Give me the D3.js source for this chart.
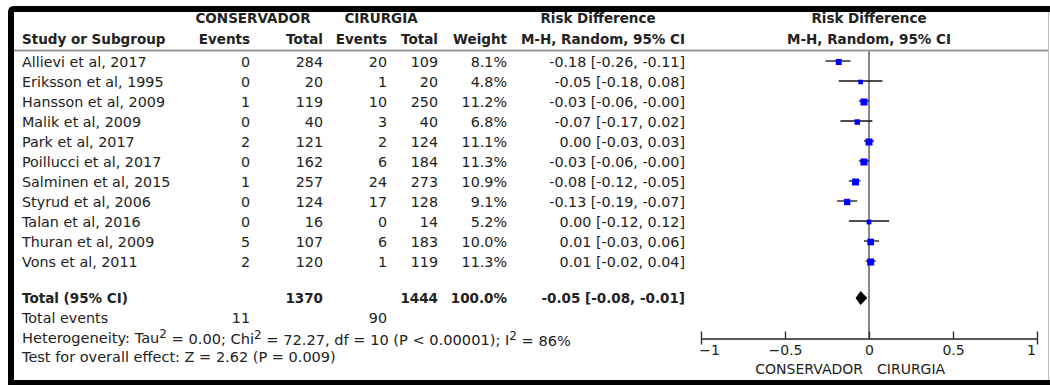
<!DOCTYPE html>
<html>
<head>
<meta charset="utf-8">
<script src="https://cdn.jsdelivr.net/npm/d3@7"></script>
<style>
  body { margin: 0; background: #fff; }
  svg text { font-family: "DejaVu Sans", sans-serif; fill: #222; }
</style>
</head>
<body>
<div id="chart"></div>
<script>
// data
const studies = ["Allievi et al, 2017", "Eriksson et al, 1995", "Hansson et al, 2009", "Malik et al, 2009",
  "Park et al, 2017", "Poillucci et al, 2017", "Salminen et al, 2015", "Styrud et al, 2006",
  "Talan et al, 2016", "Thuran et al, 2009", "Vons et al, 2011"];
const consEvents = [0, 0, 1, 0, 2, 0, 1, 0, 0, 5, 2];
const consTotal = [284, 20, 119, 40, 121, 162, 257, 124, 16, 107, 120];
const cirEvents = [20, 1, 10, 3, 2, 6, 24, 17, 0, 6, 1];
const cirTotal = [109, 20, 250, 40, 124, 184, 273, 128, 14, 183, 119];
const weights = [8.1, 4.8, 11.2, 6.8, 11.1, 11.3, 10.9, 9.1, 5.2, 10.0, 11.3];
const rd = [-0.18, -0.05, -0.03, -0.07, 0.00, -0.03, -0.08, -0.13, 0.00, 0.01, 0.01];
const ciLow = [-0.26, -0.18, -0.06, -0.17, -0.03, -0.06, -0.12, -0.19, -0.12, -0.03, -0.02];
const ciHigh = [-0.11, 0.08, -0.00, 0.02, 0.03, -0.00, -0.05, -0.07, 0.12, 0.06, 0.04];
const ciText = ["-0.18 [-0.26, -0.11]", "-0.05 [-0.18, 0.08]", "-0.03 [-0.06, -0.00]", "-0.07 [-0.17, 0.02]",
  "0.00 [-0.03, 0.03]", "-0.03 [-0.06, -0.00]", "-0.08 [-0.12, -0.05]", "-0.13 [-0.19, -0.07]",
  "0.00 [-0.12, 0.12]", "0.01 [-0.03, 0.06]", "0.01 [-0.02, 0.04]"];
const pooled = { rd: -0.05, lo: -0.08, hi: -0.01, text: "-0.05 [-0.08, -0.01]" };
const totals = { consTotal: 1370, cirTotal: 1444, weight: "100.0%", consEvents: 11, cirEvents: 90 };
const axisTicks = [-1, -0.5, 0, 0.5, 1];

const W = 1050, H = 385;
const svg = d3.select("#chart").append("svg").attr("width", W).attr("height", H);

// frame
svg.append("rect").attr("width", W).attr("height", H).attr("fill", "#fff");
svg.append("path")
  .attr("d", "M8,385 L8,12 Q8,6 14,6 L1050,6 L1050,12 L14,12 L14,380 L1050,380 L1050,385 Z")
  .attr("fill", "#000");
svg.append("line").attr("x1", 1048.5).attr("x2", 1048.5).attr("y1", 12).attr("y2", 380)
  .attr("stroke", "#bbb").attr("stroke-width", 1);

// columns (right edges) and rows
const col = { study: 22, ce: 250, ct: 323, se: 387, st: 438, w: 507, ci: 685 };
const rowY = d3.scaleLinear().domain([0, 1]).range([62, 82]);
const fs = 14.3, bfs = 13.5;

const txt = (x, y, s, anchor, bold) => svg.append("text")
  .attr("x", x).attr("y", y).attr("dy", "0.35em")
  .attr("text-anchor", anchor || "start")
  .attr("font-size", bold ? bfs : fs)
  .attr("font-weight", bold ? "bold" : "normal")
  .text(s);

// header
txt(253, 18, "CONSERVADOR", "middle", true);
txt(381, 18, "CIRURGIA", "middle", true);
txt(598, 18, "Risk Difference", "middle", true);
txt(869, 18, "Risk Difference", "middle", true);
txt(col.study, 39, "Study or Subgroup", "start", true);
txt(col.ce, 39, "Events", "end", true);
txt(col.ct, 39, "Total", "end", true);
txt(col.se, 39, "Events", "end", true);
txt(col.st, 39, "Total", "end", true);
txt(col.w, 39, "Weight", "end", true);
txt(col.ci, 39, "M-H, Random, 95% CI", "end", true);
txt(869, 39, "M-H, Random, 95% CI", "middle", true);

svg.append("line").attr("x1", 14).attr("x2", 1048).attr("y1", 50.5).attr("y2", 50.5)
  .attr("stroke", "#999").attr("stroke-width", 2);

// study rows
studies.forEach((s, i) => {
  const y = rowY(i);
  txt(col.study, y, s);
  txt(col.ce, y, consEvents[i], "end");
  txt(col.ct, y, consTotal[i], "end");
  txt(col.se, y, cirEvents[i], "end");
  txt(col.st, y, cirTotal[i], "end");
  txt(col.w, y, d3.format(".1f")(weights[i]) + "%", "end");
  txt(col.ci, y, ciText[i], "end");
});

// totals
const yTot = 298;
txt(col.study, yTot, "Total (95% CI)", "start", true);
txt(col.ct, yTot, totals.consTotal, "end", true);
txt(col.st, yTot, totals.cirTotal, "end", true);
txt(col.w, yTot, totals.weight, "end", true);
txt(col.ci, yTot, pooled.text, "end", true);
txt(col.study, 318, "Total events");
txt(col.ce, 318, totals.consEvents, "end");
txt(col.se, 318, totals.cirEvents, "end");

const het = txt(col.study, 338, "").attr("font-size", 14.6);
het.append("tspan").text("Heterogeneity: Tau");
het.append("tspan").attr("dy", "-0.4em").attr("font-size", 12).text("2");
het.append("tspan").attr("dy", "0.4em").text(" = 0.00; Chi");
het.append("tspan").attr("dy", "-0.4em").attr("font-size", 12).text("2");
het.append("tspan").attr("dy", "0.4em").text(" = 72.27, df = 10 (P < 0.00001); I");
het.append("tspan").attr("dy", "-0.4em").attr("font-size", 12).text("2");
het.append("tspan").attr("dy", "0.4em").text(" = 86%");
txt(col.study, 357, "Test for overall effect: Z = 2.62 (P = 0.009)").attr("font-size", 14.5);

// forest plot
const x = d3.scaleLinear().domain([-1, 1]).range([701, 1037]);
const axisY = 338.5;

svg.append("line").attr("x1", x(0)).attr("x2", x(0)).attr("y1", 51).attr("y2", axisY)
  .attr("stroke", "#888").attr("stroke-width", 2);

const plot = svg.append("g");
studies.forEach((s, i) => {
  const y = rowY(i);
  plot.append("line").attr("x1", x(ciLow[i])).attr("x2", x(ciHigh[i]))
    .attr("y1", y - 1).attr("y2", y - 1).attr("stroke", "#111").attr("stroke-width", 1.3);
  const sz = Math.sqrt(weights[i]) * 2.1;
  plot.append("rect").attr("x", x(rd[i]) - sz / 2).attr("y", y - sz / 2)
    .attr("width", sz).attr("height", sz).attr("fill", "#0000ff");
});

// pooled diamond
plot.append("path")
  .attr("d", `M${x(pooled.lo)},${yTot} L${x(pooled.rd)},${yTot - 7} L${x(pooled.hi)},${yTot} L${x(pooled.rd)},${yTot + 7} Z`)
  .attr("fill", "#000");

// axis
const axis = svg.append("g").attr("transform", `translate(0,${axisY})`)
  .call(d3.axisBottom(x).tickValues(axisTicks).tickSizeInner(-7).tickSizeOuter(0).tickPadding(7)
    .tickFormat(d3.format("")));
axis.select(".domain").attr("stroke", "#222").attr("stroke-width", 1.3);
axis.selectAll(".tick line").attr("stroke", "#222").attr("stroke-width", 1.3);
axis.selectAll(".tick text").attr("font-size", 14).attr("fill", "#333")
  .attr("font-family", "DejaVu Sans, sans-serif")
  .attr("dx", d => d === -1 ? 8 : d === 1 ? -6 : 0);
axis.selectAll(".tick").filter(d => Math.abs(d) === 1).append("line")
  .attr("y1", 0).attr("y2", 6).attr("stroke", "#222").attr("stroke-width", 1.3);

txt(x(0) - 6, 369, "CONSERVADOR", "end").attr("font-size", 14);
txt(x(0) + 8, 369, "CIRURGIA", "start").attr("font-size", 14);
</script>
</body>
</html>
